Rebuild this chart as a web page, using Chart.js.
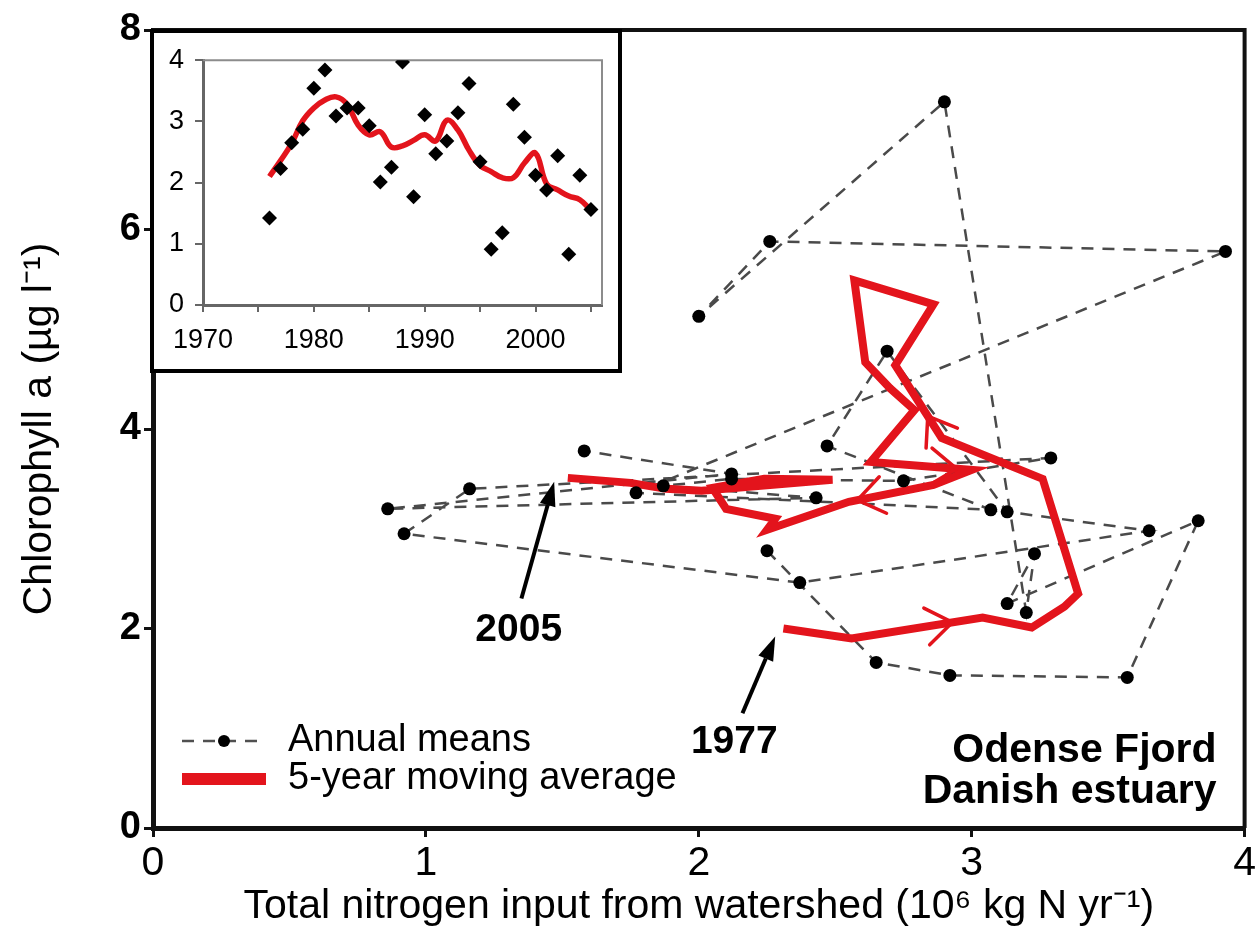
<!DOCTYPE html>
<html>
<head>
<meta charset="utf-8">
<script src="https://cdn.jsdelivr.net/npm/chart.js@4.4.1/dist/chart.umd.min.js"></script>
<style>
  html, body { margin: 0; padding: 0; background: #fff; }
  #wrap { position: relative; width: 1258px; height: 945px; overflow: hidden; }
  #main { position: absolute; left: 0; top: 0; }
  #insetBox { position: absolute; left: 150px; top: 29px; width: 472px; height: 344px; box-sizing: border-box; border: 4px solid #000; background: #fff; }
  #inset { display: block; }
</style>
</head>
<body>
<div id="wrap">
  <canvas id="main" width="1258" height="945" style="width:1258px;height:945px"></canvas>
  <div id="insetBox"><canvas id="inset" width="464" height="336" style="width:464px;height:336px"></canvas></div>
</div>
<script>
// annual means 1977-2005 (main panel)
const years = [1977,1978,1979,1980,1981,1982,1983,1984,1985,1986,1987,1988,1989,1990,1991,1992,1993,1994,1995,1996,1997,1998,1999,2000,2001,2002,2003,2004,2005]
const nInput = [2.25,2.65,2.92,3.57,3.83,3.13,3.23,3.20,2.90,2.00,2.26,3.93,1.77,3.07,2.47,2.69,3.13,3.65,2.37,0.92,1.16,3.29,2.75,2.12,1.87,2.43,0.86,2.12,1.58]
const chlA = [2.78,1.66,1.53,1.51,3.08,2.25,2.75,2.16,7.28,5.13,5.88,5.78,3.36,3.19,3.83,4.78,3.17,2.98,2.46,2.95,3.40,3.71,3.48,3.50,3.43,3.31,3.20,3.55,3.78]

// 5-year moving average path
const maN = [2.31,2.56,3.04,3.22,3.34,3.39,3.26,2.89,2.72,2.86,2.57,2.61,2.70,2.79,2.63,3.00,2.86,2.55,2.25,2.28,2.10,2.05,2.24,2.49,2.01,1.88,1.77,1.75,1.52]
const maChl = [2.00,1.90,2.11,2.01,2.22,2.35,3.50,3.91,4.64,5.25,5.49,4.67,4.41,4.19,3.67,3.59,3.44,3.27,2.99,3.10,3.20,3.41,3.50,3.49,3.38,3.40,3.45,3.46,3.51]
// arrowheads on the average path: segment start index, position along segment
const arrowSeg = [1, 7, 14, 16]
const arrowPos = [0.77, 0.3, 0.85, 0.9]

// inset: N input by year
const insetYears = [1976,1977,1978,1979,1980,1981,1982,1983,1984,1985,1986,1987,1988,1989,1990,1991,1992,1993,1994,1995,1996,1997,1998,1999,2000,2001,2002,2003,2004,2005]
const insetN = [1.42,2.23,2.65,2.87,3.54,3.84,3.09,3.22,3.22,2.93,2.01,2.25,3.97,1.77,3.11,2.47,2.68,3.14,3.62,2.34,0.91,1.18,3.28,2.74,2.12,1.88,2.44,0.83,2.12,1.56]
const insetAvg = [2.10,2.36,2.64,3.01,3.22,3.35,3.40,3.28,2.94,2.78,2.83,2.58,2.60,2.69,2.78,2.68,3.02,2.86,2.53,2.28,2.18,2.08,2.08,2.32,2.48,1.98,1.88,1.78,1.72,1.55]

const xTicks = [0,1,2,3,4]
const yTicks = [0,2,4,6,8]

const RED = '#e3141c'
const FONT = "'Liberation Sans', Arial, sans-serif"

function pts(xs, ys) {
    return xs.map((x, i) => ({x: x, y: ys[i]}))
}

let framePlugin = {
    id: 'frame',
    afterDraw(chart) {
        let ctx = chart.ctx
        let a = chart.chartArea
        ctx.save()
        ctx.strokeStyle = '#111'
        ctx.lineWidth = 4
        ctx.beginPath()
        ctx.moveTo(a.left, a.top)
        ctx.lineTo(a.right, a.top)
        ctx.lineTo(a.right, a.bottom)
        ctx.stroke()
        ctx.restore()
    }
}

let arrowPlugin = {
    id: 'maArrows',
    afterDatasetsDraw(chart) {
        let ctx = chart.ctx
        let xs = chart.scales.x, ys = chart.scales.y
        ctx.save()
        ctx.strokeStyle = RED
        ctx.lineWidth = 3.5
        ctx.lineCap = 'round'
        for (let k = 0; k < arrowSeg.length; k++) {
            let i = arrowSeg[k]
            let x0 = xs.getPixelForValue(maN[i]), y0 = ys.getPixelForValue(maChl[i])
            let x1 = xs.getPixelForValue(maN[i + 1]), y1 = ys.getPixelForValue(maChl[i + 1])
            let t = arrowPos[k]
            let px = x0 + (x1 - x0) * t, py = y0 + (y1 - y0) * t
            let ang = Math.atan2(y1 - y0, x1 - x0)
            for (let s of [-1, 1]) {
                let b = ang + Math.PI + s * 0.62
                ctx.beginPath()
                ctx.moveTo(px, py)
                ctx.lineTo(px + 32 * Math.cos(b), py + 32 * Math.sin(b))
                ctx.stroke()
            }
        }
        ctx.restore()
    }
}

function blackArrow(ctx, x0, y0, x1, y1) {
    let ang = Math.atan2(y1 - y0, x1 - x0)
    let hl = 24, hw = 8
    let bx = x1 - hl * Math.cos(ang), by = y1 - hl * Math.sin(ang)
    ctx.beginPath()
    ctx.moveTo(x0, y0)
    ctx.lineTo(bx, by)
    ctx.stroke()
    ctx.beginPath()
    ctx.moveTo(x1, y1)
    ctx.lineTo(bx + hw * Math.sin(ang), by - hw * Math.cos(ang))
    ctx.lineTo(bx - hw * Math.sin(ang), by + hw * Math.cos(ang))
    ctx.closePath()
    ctx.fill()
}

let notePlugin = {
    id: 'notes',
    afterDraw(chart) {
        let ctx = chart.ctx
        let xs = chart.scales.x, ys = chart.scales.y
        let a = chart.chartArea
        ctx.save()
        ctx.fillStyle = '#000'
        ctx.strokeStyle = '#000'
        ctx.lineWidth = 4

        // year callouts
        blackArrow(ctx, xs.getPixelForValue(1.35), ys.getPixelForValue(2.30), xs.getPixelForValue(1.47), ys.getPixelForValue(3.47))
        blackArrow(ctx, xs.getPixelForValue(2.16), ys.getPixelForValue(1.15), xs.getPixelForValue(2.28), ys.getPixelForValue(1.92))
        ctx.font = 'bold 39px ' + FONT
        ctx.textAlign = 'center'
        ctx.textBaseline = 'middle'
        ctx.fillText('2005', xs.getPixelForValue(1.34), ys.getPixelForValue(1.98))
        ctx.fillText('1977', xs.getPixelForValue(2.13), ys.getPixelForValue(0.86))

        // site label
        ctx.font = 'bold 41px ' + FONT
        ctx.textAlign = 'right'
        ctx.textBaseline = 'alphabetic'
        ctx.fillText('Odense Fjord', a.right - 28, a.bottom - 66)
        ctx.fillText('Danish estuary', a.right - 28, a.bottom - 25)

        // legend
        let lx = a.left + 29, ly1 = a.bottom - 87, ly2 = a.bottom - 49
        ctx.strokeStyle = '#505050'
        ctx.lineWidth = 2.5
        ctx.setLineDash([12, 9])
        ctx.beginPath()
        ctx.moveTo(lx, ly1)
        ctx.lineTo(lx + 84, ly1)
        ctx.stroke()
        ctx.setLineDash([])
        ctx.beginPath()
        ctx.arc(lx + 42, ly1, 6, 0, Math.PI * 2)
        ctx.fill()
        ctx.strokeStyle = RED
        ctx.lineWidth = 12
        ctx.beginPath()
        ctx.moveTo(lx, ly2)
        ctx.lineTo(lx + 84, ly2)
        ctx.stroke()
        ctx.font = '38px ' + FONT
        ctx.textAlign = 'left'
        ctx.textBaseline = 'middle'
        ctx.fillText('Annual means', lx + 106, ly1)
        ctx.fillText('5-year moving average', lx + 106, ly2)
        ctx.restore()
    }
}

let mainChart = new Chart(document.getElementById('main'), {
    type: 'scatter',
    data: {
        datasets: [
            {label: 'points', data: pts(nInput, chlA), showLine: false, pointRadius: 6.5, pointBackgroundColor: '#000', pointBorderWidth: 0},
            {label: '5-year moving average', data: pts(maN, maChl), showLine: true, borderColor: RED, borderWidth: 8, pointRadius: 0, tension: 0},
            {label: 'Annual means', data: pts(nInput, chlA), showLine: true, borderColor: '#4a4a4a', borderWidth: 2.5, borderDash: [12, 9], pointRadius: 0, tension: 0}
        ]
    },
    options: {
        responsive: false,
        animation: false,
        layout: {padding: {left: 0, right: 12, top: 30, bottom: 0}},
        plugins: {legend: {display: false}, tooltip: {enabled: false}},
        scales: {
            x: {
                type: 'linear', min: 0, max: 4,
                afterBuildTicks: s => { s.ticks = xTicks.map(v => ({value: v})) },
                ticks: {font: {family: FONT, size: 41}, color: '#000', padding: 2, maxRotation: 0},
                grid: {display: true, drawOnChartArea: false, tickLength: 9, lineWidth: 3, color: '#111'},
                border: {width: 5, color: '#111'},
                title: {display: true, text: 'Total nitrogen input from watershed (10\u2076 kg N yr\u207B\u00B9)', font: {family: FONT, size: 41}, color: '#000', padding: {top: 0, bottom: 14}},
                afterFit: s => { s.height = 117 }
            },
            y: {
                type: 'linear', min: 0, max: 8,
                afterBuildTicks: s => { s.ticks = yTicks.map(v => ({value: v})) },
                ticks: {font: {family: FONT, size: 38, weight: 'bold'}, color: '#000', padding: 3},
                grid: {display: true, drawOnChartArea: false, tickLength: 9, lineWidth: 3, color: '#111'},
                border: {width: 5, color: '#111'},
                title: {display: true, text: 'Chlorophyll a (\u00B5g l\u207B\u00B9)', font: {family: FONT, size: 41}, color: '#000', padding: {top: 15, bottom: 0}},
                afterFit: s => { s.width = 153 }
            }
        }
    },
    plugins: [framePlugin, arrowPlugin, notePlugin]
})

let insetFrame = {
    id: 'insetFrame',
    beforeDatasetsDraw(chart) {
        let ctx = chart.ctx
        let a = chart.chartArea
        ctx.save()
        ctx.strokeStyle = '#8c8c8c'
        ctx.lineWidth = 2
        ctx.beginPath()
        ctx.moveTo(a.left, a.top)
        ctx.lineTo(a.right, a.top)
        ctx.lineTo(a.right, a.bottom)
        ctx.stroke()
        ctx.restore()
    }
}

let insetChart = new Chart(document.getElementById('inset'), {
    type: 'scatter',
    data: {
        datasets: [
            {label: 'N input', data: pts(insetYears, insetN), showLine: false, pointStyle: 'rectRot', pointRadius: 7.5, pointBackgroundColor: '#000', pointBorderWidth: 0},
            {label: 'average', data: pts(insetYears, insetAvg), showLine: true, borderColor: RED, borderWidth: 5.5, pointRadius: 0, tension: 0.4}
        ]
    },
    options: {
        responsive: false,
        animation: false,
        layout: {padding: {left: 0, right: 16, top: 24, bottom: 0}},
        plugins: {legend: {display: false}, tooltip: {enabled: false}},
        scales: {
            x: {
                type: 'linear', min: 1970, max: 2006,
                ticks: {stepSize: 5, includeBounds: false, autoSkip: false, maxRotation: 0, font: {family: FONT, size: 27}, color: '#000', padding: 12,
                    callback: v => (v % 10 === 0 ? String(v) : '')},
                grid: {display: true, drawOnChartArea: false, tickLength: 7, lineWidth: 2, color: '#666'},
                border: {width: 3, color: '#666'},
                afterFit: s => { s.height = 64 }
            },
            y: {
                type: 'linear', min: 0, max: 4,
                ticks: {stepSize: 1, font: {family: FONT, size: 27}, color: '#000', padding: 11},
                grid: {display: true, drawOnChartArea: false, tickLength: 8, lineWidth: 2, color: '#666'},
                border: {width: 3, color: '#666'},
                afterFit: s => { s.width = 49 }
            }
        }
    },
    plugins: [insetFrame]
})
</script>
</body>
</html>
